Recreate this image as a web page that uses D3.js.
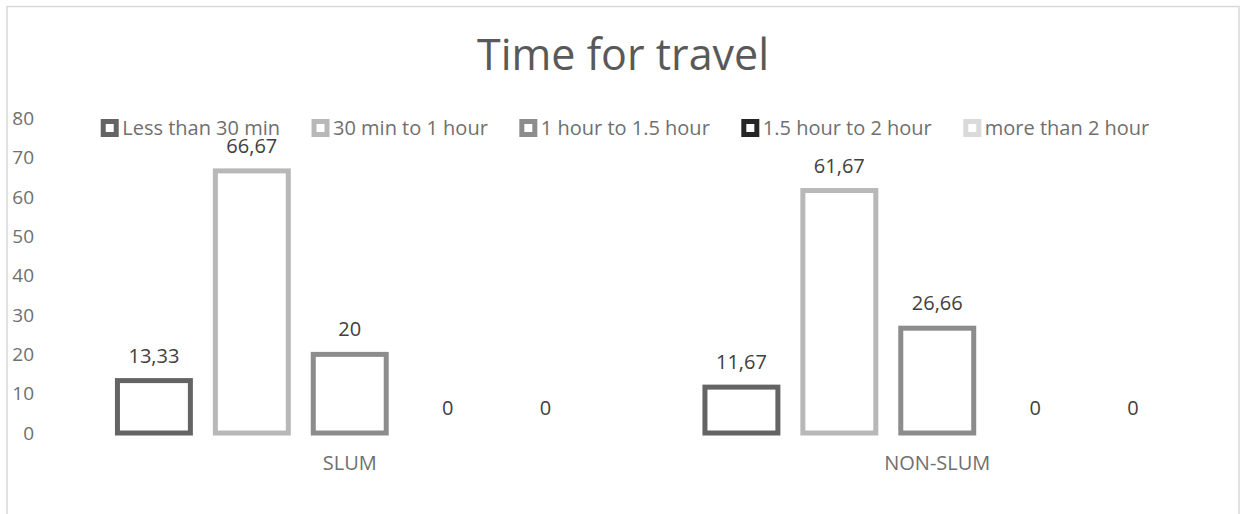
<!DOCTYPE html>
<html>
<head>
<meta charset="utf-8">
<script src="https://cdn.jsdelivr.net/npm/d3@7"></script>
<style>
  html, body { margin: 0; padding: 0; background: #fff; }
  svg { display: block; font-family: "Open Sans", sans-serif; }
</style>
</head>
<body>
<svg id="chart" width="1246" height="514"></svg>
<script>
// Travel time shares (%) by settlement type
const categories = ["SLUM", "NON-SLUM"];
const seriesNames = ["Less than 30 min", "30 min to 1 hour", "1 hour to 1.5 hour", "1.5 hour to 2 hour", "more than 2 hour"];
const slumValues = [13.33, 66.67, 20, 0, 0];
const nonSlumValues = [11.67, 61.67, 26.66, 0, 0];
const valueLabels = [["13,33", "66,67", "20", "0", "0"], ["11,67", "61,67", "26,66", "0", "0"]];
const yTicks = [0, 10, 20, 30, 40, 50, 60, 70, 80];
const seriesColors = ["#646464", "#b8b8b8", "#8c8c8c", "#262626", "#dadada"];

const seriesValues = [slumValues, nonSlumValues];

const svg = d3.select("#chart");

// outer frame
svg.append("rect")
  .attr("x", 7).attr("y", 6.5)
  .attr("width", 1232).attr("height", 530)
  .attr("fill", "#fff")
  .attr("stroke", "#d9d9d9").attr("stroke-width", 1.5);

const plot = { left: 56, right: 1231, top: 118.5, bottom: 433 };

const y = d3.scaleLinear().domain([0, 80]).range([plot.bottom, plot.top]);

const x0 = d3.scaleBand().domain(categories).range([plot.left, plot.right]).padding(0);
const x1 = d3.scaleBand().domain(d3.range(seriesNames.length))
  .range([0, x0.bandwidth()])
  .paddingInner(0.255)
  .paddingOuter(0.6275);

// title
svg.append("text")
  .attr("x", 623).attr("y", 70)
  .attr("text-anchor", "middle")
  .attr("font-size", 43)
  .attr("fill", "#595959")
  .text("Time for travel");

// y axis labels (no axis line)
const yAxis = d3.axisLeft(y).tickValues(yTicks).tickSize(0).tickPadding(0);
const gy = svg.append("g").attr("transform", "translate(34,0)").call(yAxis);
gy.select(".domain").remove();
gy.selectAll("text")
  .attr("font-family", "Open Sans, sans-serif")
  .attr("font-size", 19)
  .attr("fill", "#6f6f6f");

// category labels
const xAxis = d3.axisBottom(x0).tickSize(0).tickPadding(0);
const gx = svg.append("g").attr("transform", "translate(0,456)").call(xAxis);
gx.select(".domain").remove();
gx.selectAll("text")
  .attr("font-family", "Open Sans, sans-serif")
  .attr("font-size", 20)
  .attr("fill", "#6f6f6f");

// bars (outlined)
const groups = svg.append("g").selectAll("g")
  .data(categories)
  .join("g")
  .attr("transform", d => `translate(${x0(d)},0)`);

groups.each(function (cat, ci) {
  const g = d3.select(this);
  const vals = seriesValues[ci];
  g.selectAll("rect")
    .data(vals.map((v, i) => ({ v, i })).filter(d => d.v > 0))
    .join("rect")
    .attr("x", d => x1(d.i))
    .attr("y", d => y(d.v))
    .attr("width", x1.bandwidth())
    .attr("height", d => y(0) - y(d.v))
    .attr("fill", "#fff")
    .attr("stroke", d => seriesColors[d.i])
    .attr("stroke-width", 5);

  g.selectAll("text.val")
    .data(vals.map((v, i) => ({ v, i })))
    .join("text")
    .attr("class", "val")
    .attr("x", d => x1(d.i) + x1.bandwidth() / 2)
    .attr("y", d => y(d.v) - 18)
    .attr("text-anchor", "middle")
    .attr("font-size", 20)
    .attr("fill", "#404040")
    .text(d => valueLabels[ci][d.i]);
});

// legend, centred across the chart
const legend = svg.append("g");
const items = legend.selectAll("g").data(seriesNames).join("g");
items.append("rect")
  .attr("x", 2.5).attr("y", 121.5)
  .attr("width", 13).attr("height", 13)
  .attr("fill", "#fff")
  .attr("stroke", (d, i) => seriesColors[i])
  .attr("stroke-width", 5);
items.append("text")
  .attr("x", 21.5).attr("y", 135)
  .attr("font-size", 20)
  .attr("fill", "#6f6f6f")
  .text(d => d);

const widths = [];
items.each(function () {
  widths.push(21.5 + d3.select(this).select("text").node().getComputedTextLength());
});
const gap = 31.5;
const total = d3.sum(widths) + gap * (widths.length - 1);
let start = 625 - total / 2;
items.attr("transform", (d, i) => {
  const t = `translate(${start},0)`;
  start += widths[i] + gap;
  return t;
});
</script>
</body>
</html>
